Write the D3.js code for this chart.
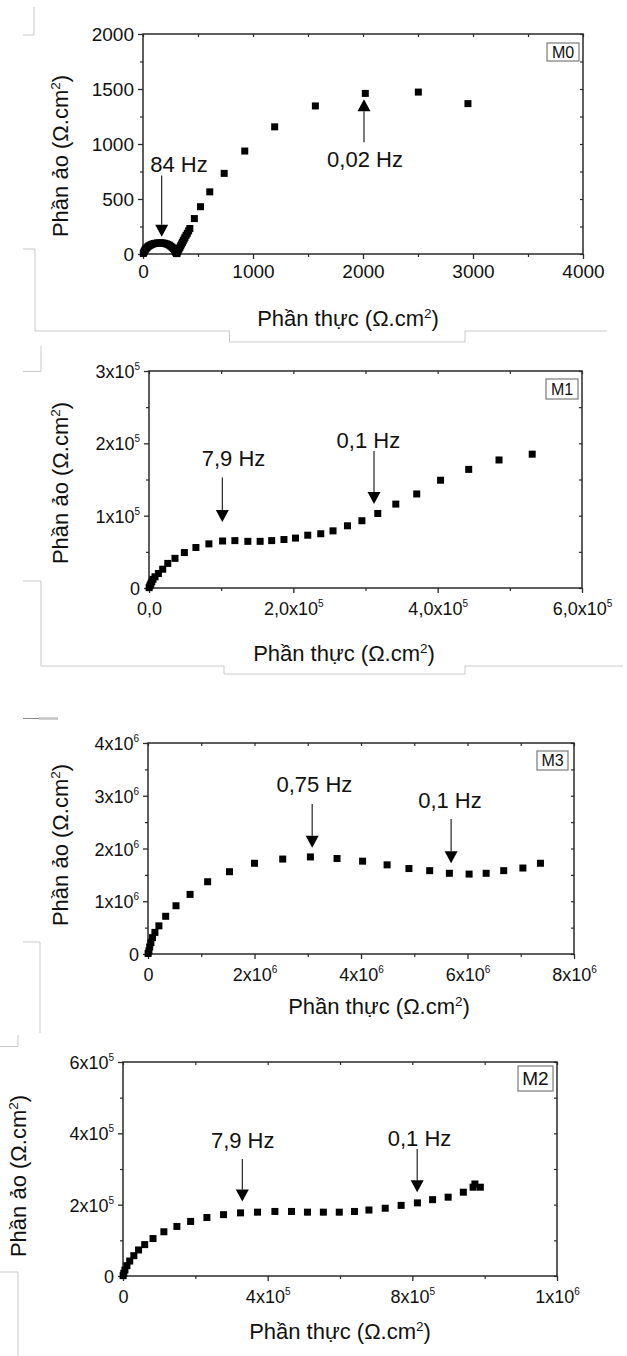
<!DOCTYPE html>
<html><head><meta charset="utf-8">
<script src="https://cdn.jsdelivr.net/npm/d3@7"></script>
<style>
body{margin:0;background:#fff;}
svg text{font-family:"Liberation Sans",Arial,Helvetica,sans-serif;fill:#111;}
</style>
</head><body>
<script>
// ---------------- DATA ----------------
// M0 (Ω.cm²)
const m0Re = [3,7,12,18,25,33,42,52,63,75,88,102,117,132,148,164,180,196,211,226,240,253,265,276,285,293,299,304,
  309,315,321,328,336,343,351,358,366,374,382,392,403,415,426,467,523,607,738,925,1197,1567,2021,2503,2954];
const m0Im = [5,15,26,36,46,55,64,72,79,85,90,95,98,100,101,101,100,97,93,87,80,71,61,50,38,26,14,4,
  4,20,36,48,61,76,91,106,121,136,152,170,188,210,232,322,430,565,733,936,1156,1346,1460,1472,1367];
// M1 (x1e5 Ω.cm²)
const m1Re = [0.002,0.012,0.024,0.038,0.055,0.083,0.13,0.19,0.26,0.36,0.49,0.65,0.83,1.02,1.19,1.37,1.54,1.70,1.87,2.03,2.20,2.38,2.55,2.75,2.95,3.17,3.42,3.71,4.04,4.43,4.85,5.31];
const m1Im = [0.005,0.03,0.055,0.085,0.12,0.155,0.20,0.26,0.34,0.41,0.49,0.56,0.61,0.65,0.655,0.645,0.645,0.655,0.67,0.69,0.73,0.75,0.79,0.86,0.93,1.03,1.16,1.30,1.49,1.64,1.77,1.85];
// M3 (x1e6 Ω.cm²)
const m3Re = [0.002,0.017,0.032,0.054,0.084,0.13,0.205,0.332,0.526,0.79,1.12,1.53,2.0,2.53,3.05,3.55,4.03,4.49,4.9,5.29,5.66,6.03,6.35,6.68,7.04,7.37];
const m3Im = [0.01,0.058,0.134,0.215,0.31,0.41,0.534,0.715,0.915,1.13,1.37,1.56,1.72,1.80,1.84,1.81,1.76,1.69,1.62,1.58,1.53,1.515,1.53,1.58,1.63,1.72];
// M2 (x1e5 Ω.cm²)
const m2Re = [0.004,0.022,0.053,0.108,0.186,0.3,0.43,0.6,0.83,1.13,1.49,1.87,2.32,2.78,3.25,3.72,4.2,4.66,5.10,5.54,5.98,6.40,6.80,7.25,7.69,8.14,8.56,8.99,9.41,9.68,9.73,9.88];
const m2Im = [0.01,0.076,0.17,0.29,0.42,0.57,0.73,0.88,1.05,1.24,1.39,1.53,1.64,1.72,1.77,1.79,1.81,1.81,1.79,1.79,1.79,1.81,1.85,1.90,1.98,2.05,2.14,2.21,2.35,2.49,2.58,2.49];

// Ticks
const m0XTicks = [0,1000,2000,3000,4000], m0XLabels = ["0","1000","2000","3000","4000"], m0XMinor = [500,1500,2500,3500];
const m0YTicks = [0,500,1000,1500,2000], m0YLabels = ["0","500","1000","1500","2000"], m0YMinor = [250,750,1250,1750];
const m1XTicks = [0,2e5,4e5,6e5], m1XLabels = ["0,0","2,0x10^5","4,0x10^5","6,0x10^5"], m1XMinor = [1e5,3e5,5e5];
const m1YTicks = [0,1e5,2e5,3e5], m1YLabels = ["0","1x10^5","2x10^5","3x10^5"], m1YMinor = [0.5e5,1.5e5,2.5e5];
const m3XTicks = [0,2e6,4e6,6e6,8e6], m3XLabels = ["0","2x10^6","4x10^6","6x10^6","8x10^6"], m3XMinor = [1e6,3e6,5e6,7e6];
const m3YTicks = [0,1e6,2e6,3e6,4e6], m3YLabels = ["0","1x10^6","2x10^6","3x10^6","4x10^6"], m3YMinor = [0.5e6,1.5e6,2.5e6,3.5e6];
const m2XTicks = [0,4e5,8e5,1.2e6], m2XLabels = ["0","4x10^5","8x10^5","1x10^6"], m2XMinor = [2e5,6e5,1e6];
const m2YTicks = [0,2e5,4e5,6e5], m2YLabels = ["0","2x10^5","4x10^5","6x10^5"], m2YMinor = [1e5,3e5,5e5];

// Frequency annotations (data units): arrow x, tip y, tail y, label x, label y
const m0Notes = [
  {label:"84 Hz", x:170, tip:157, tail:714, lx:327, ly:745},
  {label:"0,02 Hz", x:2009, tip:1406, tail:1015, lx:2018, ly:791}
];
const m1Notes = [
  {label:"7,9 Hz", x:1.016e5, tip:0.912e5, tail:1.529e5, lx:1.171e5, ly:1.689e5},
  {label:"0,1 Hz", x:3.118e5, tip:1.161e5, tail:1.894e5, lx:3.04e5, ly:1.941e5}
];
const m3Notes = [
  {label:"0,75 Hz", x:3.083e6, tip:2.015e6, tail:2.845e6, lx:3.125e6, ly:3.075e6},
  {label:"0,1 Hz", x:5.692e6, tip:1.721e6, tail:2.558e6, lx:5.671e6, ly:2.777e6}
];
const m2Notes = [
  {label:"7,9 Hz", x:3.299e5, tip:2.089e5, tail:3.28e5, lx:3.31e5, ly:3.575e5},
  {label:"0,1 Hz", x:8.134e5, tip:2.35e5, tail:3.561e5, lx:8.2e5, ly:3.65e5}
];

const panelNames = ["M0","M1","M3","M2"];
const xTitle = "Phần thực (Ω.cm", yTitle = "Phần ảo (Ω.cm";

// ---------------- DRAW ----------------
const W = 627, H = 1356;
const svg = d3.select("body").append("svg").attr("width", W).attr("height", H);

// faint frame fragments from the original composite
const frag = svg.append("g").attr("fill","none").attr("stroke","#c9c9c9").attr("stroke-width",1);
["M34,7V35H23","M23,249H35V331H229.5V342H465V331H607",
 "M41,346V371.5H23","M23,581H41V666H224V674H465V666H623",
 "M23,942H40V1033","M18,1035V1046.5H0","M0,1272H18V1356"].forEach(d=>frag.append("path").attr("d",d));
frag.append("path").attr("d","M23,718.5H39").attr("stroke","#888");
frag.append("path").attr("d","M39,718.5H58").attr("stroke","#c4c4c4").attr("stroke-width",2.5);

const panels = [
  {name:panelNames[0], re:m0Re, im:m0Im, mul:1, L:143, R:583, T:34, B:254, xDom:[0,4000], yDom:[0,2000],
   xT:m0XTicks, xL:m0XLabels, xM:m0XMinor, yT:m0YTicks, yL:m0YLabels, yM:m0YMinor, notes:m0Notes,
   tickFont:19, xt:[348,326], yt:[68,156], box:{w:32,h:18,dr:4,dt:9,f:16}},
  {name:panelNames[1], re:m1Re, im:m1Im, mul:1e5, L:149, R:582, T:371, B:588, xDom:[0,6e5], yDom:[0,3e5],
   xT:m1XTicks, xL:m1XLabels, xM:m1XMinor, yT:m1YTicks, yL:m1YLabels, yM:m1YMinor, notes:m1Notes,
   tickFont:18, xt:[344,661], yt:[68,483], box:{w:32,h:20,dr:4,dt:8,f:16}},
  {name:panelNames[2], re:m3Re, im:m3Im, mul:1e6, L:148, R:574, T:743, B:954, xDom:[0,8e6], yDom:[0,4e6],
   xT:m3XTicks, xL:m3XLabels, xM:m3XMinor, yT:m3YTicks, yL:m3YLabels, yM:m3YMinor, notes:m3Notes,
   tickFont:18, xt:[379,1014], yt:[68,845], box:{w:31,h:19,dr:6,dt:8,f:16}},
  {name:panelNames[3], re:m2Re, im:m2Im, mul:1e5, L:123, R:557, T:1062, B:1276, xDom:[0,1.2e6], yDom:[0,6e5],
   xT:m2XTicks, xL:m2XLabels, xM:m2XMinor, yT:m2YTicks, yL:m2YLabels, yM:m2YMinor, notes:m2Notes,
   tickFont:18, xt:[340,1339], yt:[26,1176], box:{w:35,h:25,dr:4,dt:4,f:19}}
];

function supLabel(sel, labels){
  sel.each(function(d,i){
    const s = labels[i];
    const t = d3.select(this).text(null);
    if (s.includes("^")) {
      const [b,e] = s.split("^");
      t.append("tspan").text(b);
      t.append("tspan").attr("font-size", 10).attr("dy", -8).text(e);
    } else t.text(s);
  });
}

const AX = "#2a2a2a";
panels.forEach(p => {
  const x = d3.scaleLinear().domain(p.xDom).range([p.L, p.R]);
  const y = d3.scaleLinear().domain(p.yDom).range([p.B, p.T]);
  const g = svg.append("g");

  // minor ticks and mirrored inward ticks
  const styleTicks = s=>{s.select(".domain").remove(); s.selectAll("line").attr("stroke",AX).attr("stroke-width",1.2);};
  g.append("g").attr("transform",`translate(0,${p.B})`)
    .call(d3.axisBottom(x).tickValues(p.xM).tickSize(3).tickSizeOuter(0).tickFormat("")).call(styleTicks);
  g.append("g").attr("transform",`translate(${p.L},0)`)
    .call(d3.axisLeft(y).tickValues(p.yM).tickSize(3).tickSizeOuter(0).tickFormat("")).call(styleTicks);
  g.append("g").attr("transform",`translate(0,${p.T})`)
    .call(d3.axisTop(x).tickValues(p.xT.concat(p.xM)).tickSize(-3).tickSizeOuter(0).tickFormat("")).call(styleTicks);
  g.append("g").attr("transform",`translate(${p.R},0)`)
    .call(d3.axisRight(y).tickValues(p.yT.concat(p.yM)).tickSize(-3).tickSizeOuter(0).tickFormat("")).call(styleTicks);

  // major bottom axis
  const xa = g.append("g").attr("transform",`translate(0,${p.B})`)
    .call(d3.axisBottom(x).tickValues(p.xT).tickSize(5).tickSizeOuter(0).tickFormat((d,i)=>p.xL[i]))
    .attr("font-family",null).attr("font-size",null);
  xa.select(".domain").remove();
  xa.selectAll("line").attr("stroke",AX).attr("stroke-width",1.3);
  xa.selectAll("text").attr("y", p.name==="M0"?24:27).attr("dy",null)
    .attr("font-size",p.tickFont).style("fill","#111");
  supLabel(xa.selectAll("text"), p.xL);

  const ya = g.append("g").attr("transform",`translate(${p.L},0)`)
    .call(d3.axisLeft(y).tickValues(p.yT).tickSize(5).tickSizeOuter(0).tickFormat((d,i)=>p.yL[i]))
    .attr("font-family",null).attr("font-size",null);
  ya.select(".domain").remove();
  ya.selectAll("line").attr("stroke",AX).attr("stroke-width",1.3);
  ya.selectAll("text").attr("x",-9).attr("dy",null).attr("y",6.5)
    .attr("font-size",p.tickFont).style("fill","#111");
  supLabel(ya.selectAll("text"), p.yL);

  // frame
  g.append("rect").attr("x",p.L).attr("y",p.T).attr("width",p.R-p.L).attr("height",p.B-p.T)
    .attr("fill","none").attr("stroke",AX).attr("stroke-width",1.5);

  // points
  const pts = p.re.map((r,i)=>({re:r*p.mul, im:p.im[i]*p.mul}));
  const S = 7;
  g.append("g").selectAll("rect").data(pts).join("rect")
    .attr("x",d=>x(d.re)-S/2).attr("y",d=>y(d.im)-S/2).attr("width",S).attr("height",S).attr("fill","#000");

  // annotations
  p.notes.forEach(n=>{
    const ax = x(n.x), tip = y(n.tip), tail = y(n.tail);
    const dir = tip > tail ? 1 : -1;   // 1: pointing down
    const hl = 12, hw = 6.5;
    g.append("line").attr("x1",ax).attr("x2",ax).attr("y1",tail).attr("y2",tip-dir*hl)
      .attr("stroke","#111").attr("stroke-width",1.1);
    g.append("path").attr("d",`M${ax},${tip}L${ax-hw},${tip-dir*hl}L${ax+hw},${tip-dir*hl}Z`).attr("fill","#000");
    g.append("text").attr("x",x(n.lx)).attr("y",y(n.ly)).attr("text-anchor","middle")
      .attr("font-size",22).text(n.label);
  });

  // sample box
  const bx = p.R - p.box.dr - p.box.w, by = p.T + p.box.dt;
  g.append("rect").attr("x",bx).attr("y",by).attr("width",p.box.w).attr("height",p.box.h)
    .attr("fill","#fff").attr("stroke","#7a7a7a").attr("stroke-width",1.2);
  g.append("text").attr("x",bx+p.box.w/2).attr("y",by+p.box.h/2+p.box.f*0.36).attr("text-anchor","middle")
    .attr("font-size",p.box.f).text(p.name);

  // axis titles
  const xtT = g.append("text").attr("x",p.xt[0]).attr("y",p.xt[1]).attr("text-anchor","middle").attr("font-size",22);
  xtT.append("tspan").text(xTitle);
  xtT.append("tspan").attr("font-size",13.5).attr("dy",-8).text("2");
  xtT.append("tspan").attr("dy",8).text(")");

  const ytT = g.append("text").attr("transform",`translate(${p.yt[0]},${p.yt[1]}) rotate(-90)`)
    .attr("text-anchor","middle").attr("font-size",22);
  ytT.append("tspan").text(yTitle);
  ytT.append("tspan").attr("font-size",13.5).attr("dy",-8).text("2");
  ytT.append("tspan").attr("dy",8).text(")");
});
</script>
</body></html>
